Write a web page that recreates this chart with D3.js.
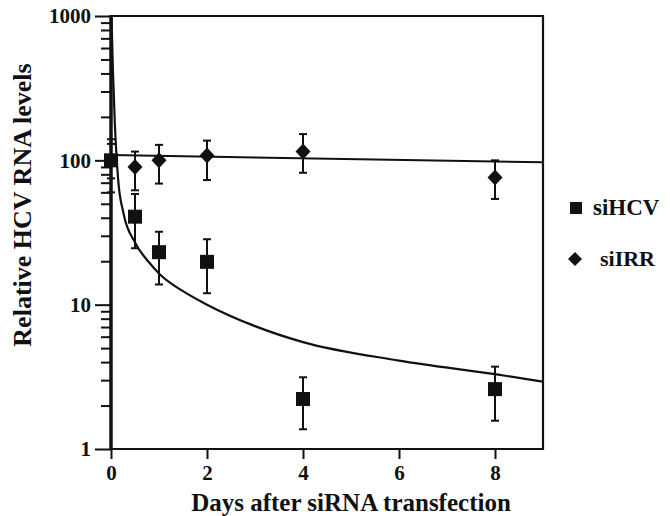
<!DOCTYPE html>
<html>
<head>
<meta charset="utf-8">
<script src="https://cdn.jsdelivr.net/npm/d3@7"></script>
<style>
body { margin: 0; background: #fff; }
text { font-family: "Liberation Serif", "Times New Roman", serif; font-weight: bold; fill: #111; }
</style>
</head>
<body>
<script>
var w = 670;
var h = 516;
var svg;

// ---- data ----
var days = [0, 0.5, 1, 2, 4, 8];

var hcvMean = [100, 40.7, 23.1, 19.8, 2.22, 2.6];
var hcvHigh = [140, 58.5, 32, 28.4, 3.14, 3.72];
var hcvLow  = [60, 24.6, 13.8, 12, 1.37, 1.57];

var irrMean = [100, 90, 100, 108, 115, 76];
var irrHigh = [130, 115, 128, 137, 152, 100];
var irrLow  = [75, 62, 69, 73, 82, 54];

// fitted curves
var hcvFitX = [0.01, 0.04, 0.08, 0.15, 0.26, 0.5, 0.8, 1.02, 1.5, 2, 3, 4, 6, 8, 9];
var hcvFitY = [1000, 420, 180, 73, 43, 27, 19.5, 16.2, 12.4, 10, 7.1, 5.5, 4.1, 3.3, 2.93];
var irrFitX = [0, 9];
var irrFitY = [108.7, 97];

var xTicks = [0, 2, 4, 6, 8];
var yTicks = [1, 10, 100, 1000];

var legendNames = ["siHCV", "siIRR"];

drawContent();

function drawContent(){
    svg = d3.select("body")
        .append("svg")
        .attr("width", w)
        .attr("height", h);

    svg.append("rect")
        .attr("width", w)
        .attr("height", h)
        .attr("fill", "#fff");

    var x = d3.scaleLinear().domain([0, 9]).range([111, 543]);
    var y = d3.scaleLog().domain([1, 1000]).range([449, 16]);

    var minor = [];
    for (var d = 1; d < 1000; d *= 10) {
        for (var k = 2; k <= 9; k++) minor.push(d * k);
    }

    svg.append("clipPath").attr("id", "plot")
        .append("rect")
        .attr("x", 111).attr("y", 16)
        .attr("width", 432).attr("height", 433);

    //----axes-----
    var gx = svg.append("g")
        .attr("transform", "translate(0,449)")
        .call(d3.axisBottom(x).tickValues(xTicks).tickSize(10).tickPadding(6).tickFormat(d3.format("d")));
    gx.select(".domain").remove();
    gx.selectAll("line").attr("stroke", "#111").attr("stroke-width", 2);
    gx.selectAll("text").attr("font-size", 21).attr("font-family", null);

    var gyMinor = svg.append("g")
        .attr("transform", "translate(111,0)")
        .call(d3.axisLeft(y).tickValues(minor).tickSize(10).tickFormat(""));
    gyMinor.select(".domain").remove();
    gyMinor.selectAll("line").attr("stroke", "#111").attr("stroke-width", 2);

    var gy = svg.append("g")
        .attr("transform", "translate(111,0)")
        .call(d3.axisLeft(y).tickValues(yTicks).tickSize(16).tickPadding(4).tickFormat(d3.format("d")));
    gy.select(".domain").remove();
    gy.selectAll("line").attr("stroke", "#111").attr("stroke-width", 2);
    gy.selectAll("text").attr("font-size", 21).attr("font-family", null);

    // frame
    svg.append("path")
        .attr("d", "M111," + y(1000) + "H" + x(9) + "V" + y(1) + "H111")
        .attr("fill", "none")
        .attr("stroke", "#111")
        .attr("stroke-width", 2.2);
    svg.append("line")
        .attr("x1", x(0)).attr("x2", x(0))
        .attr("y1", y(1000) - 1).attr("y2", y(1) + 1)
        .attr("stroke", "#111")
        .attr("stroke-width", 3.5);

    //----fit curves-----
    var line = d3.line()
        .x(function (d) { return x(d[0]); })
        .y(function (d) { return y(d[1]); })
        .curve(d3.curveMonotoneX);

    svg.append("path")
        .attr("d", line(d3.zip(hcvFitX, hcvFitY)))
        .attr("clip-path", "url(#plot)")
        .attr("fill", "none")
        .attr("stroke", "#111")
        .attr("stroke-width", 2.2);

    svg.append("path")
        .attr("d", line(d3.zip(irrFitX, irrFitY)))
        .attr("fill", "none")
        .attr("stroke", "#111")
        .attr("stroke-width", 2);

    //----error bars-----
    drawErrors(x, y, irrHigh, irrLow);
    drawErrors(x, y, hcvHigh, hcvLow);

    //----markers-----
    svg.selectAll(".irr")
        .data(days.map(function (d, i) { return [d, irrMean[i]]; }))
        .enter().append("path")
        .attr("class", "irr")
        .attr("d", "M0,-8L7.5,0L0,8L-7.5,0Z")
        .attr("transform", function (d) { return "translate(" + x(d[0]) + "," + y(d[1]) + ")"; })
        .attr("fill", "#111");

    svg.selectAll(".hcv")
        .data(days.map(function (d, i) { return [d, hcvMean[i]]; }))
        .enter().append("rect")
        .attr("class", "hcv")
        .attr("x", function (d) { return x(d[0]) - 7; })
        .attr("y", function (d) { return y(d[1]) - 7; })
        .attr("width", 14)
        .attr("height", 14)
        .attr("fill", "#111");

    //----legend-----
    svg.append("rect")
        .attr("x", 570).attr("y", 202)
        .attr("width", 12).attr("height", 12)
        .attr("fill", "#111");
    svg.append("path")
        .attr("d", "M575,252L582,259L575,266L568,259Z")
        .attr("fill", "#111");

    svg.append("text")
        .text(legendNames[0])
        .attr("x", 593)
        .attr("y", 215)
        .attr("font-size", 23);
    svg.append("text")
        .text(legendNames[1])
        .attr("x", 600)
        .attr("y", 266)
        .attr("font-size", 22);

    //----axis titles-----
    svg.append("text")
        .text("Days after siRNA transfection")
        .attr("x", 351)
        .attr("y", 511)
        .attr("text-anchor", "middle")
        .attr("font-size", 25);

    svg.append("text")
        .text("Relative HCV RNA levels")
        .attr("transform", "translate(31,205) rotate(-90)")
        .attr("text-anchor", "middle")
        .attr("font-size", 26);
}

function drawErrors(x, y, hi, lo){
    var g = svg.append("g")
        .attr("stroke", "#111")
        .attr("stroke-width", 2);
    days.forEach(function (d, i) {
        var cx = x(d);
        g.append("line")
            .attr("x1", cx).attr("x2", cx)
            .attr("y1", y(hi[i])).attr("y2", y(lo[i]));
        g.append("line")
            .attr("x1", cx - 4).attr("x2", cx + 4)
            .attr("y1", y(hi[i])).attr("y2", y(hi[i]));
        g.append("line")
            .attr("x1", cx - 4).attr("x2", cx + 4)
            .attr("y1", y(lo[i])).attr("y2", y(lo[i]));
    });
}
</script>
</body>
</html>
